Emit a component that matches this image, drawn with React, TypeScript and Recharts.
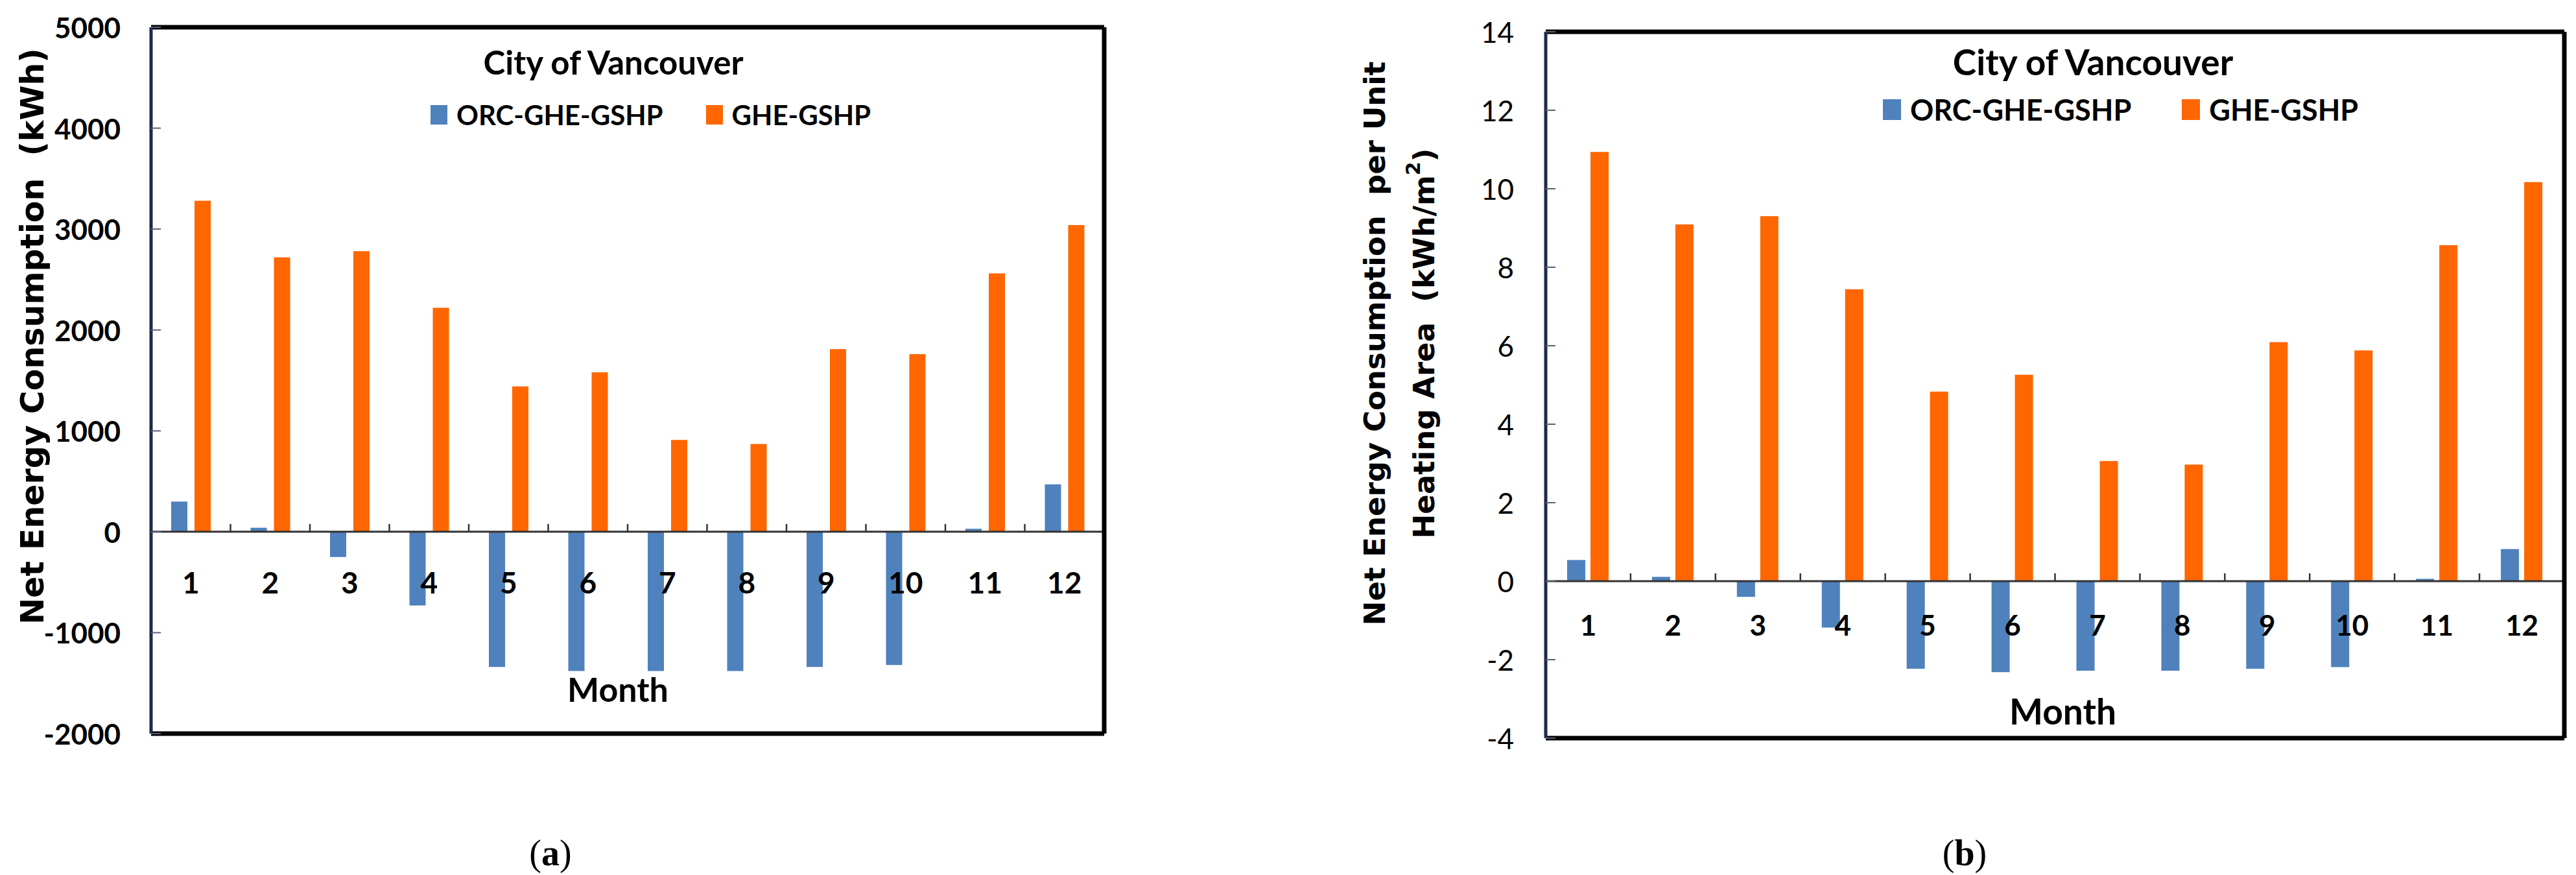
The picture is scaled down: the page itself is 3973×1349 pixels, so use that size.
import { Bar, BarChart, Label, Legend, ReferenceLine, XAxis, YAxis } from "recharts";

// values
const months = ["1", "2", "3", "4", "5", "6", "7", "8", "9", "10", "11", "12"];
const seriesNames = ["ORC-GHE-GSHP", "GHE-GSHP"];
const panelTitle = "City of Vancouver";

const orcKwh = [300, 40, -250, -730, -1340, -1380, -1380, -1380, -1340, -1320, 30, 470];
const gheKwh = [3280, 2720, 2780, 2220, 1440, 1580, 910, 870, 1810, 1760, 2560, 3040];
const kwhTicks = [-2000, -1000, 0, 1000, 2000, 3000, 4000, 5000];

const orcArea = [0.54, 0.11, -0.4, -1.18, -2.23, -2.32, -2.28, -2.28, -2.23, -2.19, 0.06, 0.82];
const gheArea = [10.94, 9.09, 9.3, 7.44, 4.83, 5.26, 3.06, 2.97, 6.09, 5.88, 8.56, 10.17];
const areaTicks = [-4, -2, 0, 2, 4, 6, 8, 10, 12, 14];

const BLUE = "#4F81BD";
const ORANGE = "#FF6600";
const NARROW = 'Lato, "Open Sans", sans-serif';
const WIDE = '"DejaVu Sans", Verdana, sans-serif';

type Panel = {
  left: number;
  width: number;
  height: number;
  margin: { top: number; right: number; bottom: number; left: number };
  yAxisW: number;
  barSize: number;
  barGap: number;
  yTickSize: number;
  yTickWeight: string;
  yTickGap: number;
  xTickSize: number;
  xLabelDy: number;
  monthSize: number;
  monthDx: number;
  monthDy: number;
  titleX: number;
  titleY: number;
  titleSize: number;
  legendX: number;
  legendY: number;
  legendSize: number;
  legendGap: number;
  swatch: number;
};

const X_AXIS_H = 30;
const RIGHT_AXIS_W = 10;

function makeRows(a: number[], b: number[]) {
  return months.map((m, i) => ({ month: m, orc: a[i], ghe: b[i] }));
}

function plotHeight(p: Panel) {
  return p.height - p.margin.top - p.margin.bottom - X_AXIS_H;
}

function plotWidth(p: Panel) {
  return p.width - p.margin.left - p.margin.right - p.yAxisW - RIGHT_AXIS_W;
}

function ChartPanel({
  p,
  rows,
  ticks,
  yTitle,
}: {
  p: Panel;
  rows: { month: string; orc: number; ghe: number }[];
  ticks: number[];
  yTitle: (vb: { x: number; y: number; width: number; height: number }) => React.ReactNode;
}) {
  const domain: [number, number] = [ticks[0], ticks[ticks.length - 1]];
  const plotH = plotHeight(p);
  const plotW = plotWidth(p);
  const zeroUp = (plotH * (0 - domain[0])) / (domain[1] - domain[0]);

  const xTick = (props: any) => {
    const { x, y, payload, index } = props;
    const zeroY = y - zeroUp;
    const half = plotW / months.length / 2;
    return (
      <g>
        {index < months.length - 1 && (
          <line x1={x + half} x2={x + half} y1={zeroY} y2={zeroY - 12} stroke="#333" strokeWidth={2.5} />
        )}
        <text
          x={x}
          y={zeroY + p.xLabelDy}
          textAnchor="middle"
          dominantBaseline="central"
          fontFamily={NARROW}
          fontWeight="bold"
          fontSize={p.xTickSize}
          fill="#000"
        >
          {payload.value}
        </text>
      </g>
    );
  };

  const yTick = (props: any) => {
    const { x, y, payload } = props;
    return (
      <g>
        <line x1={x} x2={x + 15} y1={y} y2={y} stroke="#56637c" strokeWidth={2} />
        <text
          x={x - p.yTickGap}
          y={y}
          textAnchor="end"
          dominantBaseline="central"
          fontFamily={NARROW}
          fontWeight={p.yTickWeight}
          fontSize={p.yTickSize}
          fill="#000"
        >
          {payload.value}
        </text>
      </g>
    );
  };

  const legend = () => (
    <div style={{ position: "relative", fontFamily: NARROW, fontWeight: "bold", color: "#000" }}>
      <div
        style={{
          position: "absolute",
          left: p.titleX - 400,
          width: 800,
          top: p.titleY - p.titleSize * 0.6,
          lineHeight: `${p.titleSize * 1.2}px`,
          fontSize: p.titleSize,
          textAlign: "center",
        }}
      >
        {panelTitle}
      </div>
      <div
        style={{
          position: "absolute",
          left: p.legendX,
          top: p.legendY - 30,
          height: 60,
          display: "flex",
          alignItems: "center",
          gap: p.legendGap,
          whiteSpace: "nowrap",
          fontSize: p.legendSize,
        }}
      >
        {seriesNames.map((name, i) => (
          <span key={name} style={{ display: "flex", alignItems: "center" }}>
            <span
              style={{
                display: "inline-block",
                width: p.swatch,
                height: p.swatch + 4,
                background: i === 0 ? BLUE : ORANGE,
                marginRight: 14,
              }}
            />
            <span>{name}</span>
          </span>
        ))}
      </div>
    </div>
  );

  return (
    <div style={{ position: "absolute", left: p.left, top: 0 }}>
      <BarChart
        width={p.width}
        height={p.height}
        data={rows}
        margin={p.margin}
        barGap={p.barGap}
      >
        <XAxis
          dataKey="month"
          height={X_AXIS_H}
          axisLine={false}
          tickLine={false}
          tickSize={0}
          tickMargin={0}
          interval={0}
          tick={xTick}
        >
          <Label
            content={(lp: any) => {
              const vb = lp.viewBox;
              return (
                <text
                  x={vb.x + vb.width / 2 + p.monthDx}
                  y={vb.y - p.monthDy}
                  textAnchor="middle"
                  dominantBaseline="central"
                  fontFamily={NARROW}
                  fontWeight="bold"
                  fontSize={p.monthSize}
                  fill="#000"
                >
                  Month
                </text>
              );
            }}
          />
        </XAxis>
        <YAxis
          yAxisId="left"
          type="number"
          domain={domain}
          ticks={ticks}
          width={p.yAxisW}
          axisLine={{ stroke: "#1d2b47", strokeWidth: 5 }}
          tickLine={false}
          tickSize={0}
          tickMargin={0}
          interval={0}
          tick={yTick}
        >
          <Label content={(lp: any) => yTitle(lp.viewBox)} />
        </YAxis>
        <YAxis
          yAxisId="right"
          orientation="right"
          type="number"
          domain={domain}
          width={RIGHT_AXIS_W}
          tick={false}
          tickLine={false}
          axisLine={{ stroke: "#000", strokeWidth: 7 }}
        />
        <Legend
          layout="horizontal"
          verticalAlign="middle"
          align="center"
          wrapperStyle={{ left: 0, top: 0, width: p.width, height: 0 }}
          content={legend}
        />
        <Bar
          yAxisId="left"
          dataKey="orc"
          name={seriesNames[0]}
          fill={BLUE}
          barSize={p.barSize}
          isAnimationActive={false}
        />
        <Bar
          yAxisId="left"
          dataKey="ghe"
          name={seriesNames[1]}
          fill={ORANGE}
          barSize={p.barSize}
          isAnimationActive={false}
        />
        <ReferenceLine yAxisId="left" y={0} stroke="#333" strokeWidth={3} ifOverflow="visible" />
        <ReferenceLine yAxisId="left" y={domain[1]} stroke="#000" strokeWidth={7} ifOverflow="visible" />
        <ReferenceLine yAxisId="left" y={domain[0]} stroke="#000" strokeWidth={7} ifOverflow="visible" />
      </BarChart>
    </div>
  );
}

const panelA: Panel = {
  left: 0,
  width: 1760,
  height: 1349,
  margin: { top: 42, right: 47, bottom: 188, left: 0 },
  yAxisW: 233,
  barSize: 25,
  barGap: 11,
  yTickSize: 44,
  yTickWeight: "bold",
  yTickGap: 47,
  xTickSize: 46,
  xLabelDy: 78,
  monthSize: 52,
  monthDx: -15,
  monthDy: 69,
  titleX: 946,
  titleY: 96,
  titleSize: 51,
  legendX: 664,
  legendY: 177,
  legendSize: 42,
  legendGap: 66,
  swatch: 26,
};

const panelB: Panel = {
  left: 1960,
  width: 2013,
  height: 1349,
  margin: { top: 49, right: 8, bottom: 181, left: 0 },
  yAxisW: 424,
  barSize: 28,
  barGap: 8,
  yTickSize: 44,
  yTickWeight: "normal",
  yTickGap: 49,
  xTickSize: 44,
  xLabelDy: 67,
  monthSize: 55,
  monthDx: 12,
  monthDy: 42,
  titleX: 1268,
  titleY: 95,
  titleSize: 55,
  legendX: 944,
  legendY: 169,
  legendSize: 45,
  legendGap: 78,
  swatch: 28,
};

const kwhTitle = (vb: { x: number; y: number; width: number; height: number }) => {
  const cx = vb.x + 50;
  const cy = vb.y + vb.height / 2 - 68;
  return (
    <text
      x={cx}
      y={cy}
      transform={`rotate(-90 ${cx} ${cy})`}
      textAnchor="middle"
      dominantBaseline="central"
      fontFamily={WIDE}
      fontWeight="bold"
      fontSize={49}
      fill="#000"
      style={{ whiteSpace: "pre" }}
    >
      {"Net Energy Consumption  (kWh)"}
    </text>
  );
};

const areaTitle = (vb: { x: number; y: number; width: number; height: number }) => {
  const cy = vb.y + vb.height / 2 - 64;
  const c1 = vb.x + 160;
  const c2 = vb.x + 236;
  return (
    <g fontFamily={WIDE} fontWeight="bold" fontSize={45} fill="#000">
      <text
        x={c1}
        y={cy}
        transform={`rotate(-90 ${c1} ${cy})`}
        textAnchor="middle"
        dominantBaseline="central"
        style={{ whiteSpace: "pre" }}
      >
        {"Net Energy Consumption  per Unit"}
      </text>
      <text
        x={c2}
        y={cy}
        transform={`rotate(-90 ${c2} ${cy})`}
        textAnchor="middle"
        dominantBaseline="central"
        style={{ whiteSpace: "pre" }}
      >
        {"Heating Area  (kWh/m"}
        <tspan dy={-17} fontSize={30}>
          2
        </tspan>
        <tspan dy={17}>)</tspan>
      </text>
    </g>
  );
};

function Caption({ x, letter }: { x: number; letter: string }) {
  return (
    <div
      style={{
        position: "absolute",
        left: x - 100,
        width: 200,
        top: 1280,
        lineHeight: "70px",
        fontSize: 56,
        fontFamily: '"Liberation Serif", "DejaVu Serif", serif',
        textAlign: "center",
        color: "#000",
      }}
    >
      (<b>{letter}</b>)
    </div>
  );
}

export default function App() {
  return (
    <div
      style={{
        position: "absolute",
        left: 0,
        top: 0,
        width: 3973,
        height: 1349,
        background: "#fff",
        overflow: "hidden",
      }}
    >
      <ChartPanel p={panelA} rows={makeRows(orcKwh, gheKwh)} ticks={kwhTicks} yTitle={kwhTitle} />
      <ChartPanel p={panelB} rows={makeRows(orcArea, gheArea)} ticks={areaTicks} yTitle={areaTitle} />
      <Caption x={849} letter="a" />
      <Caption x={3030} letter="b" />
    </div>
  );
}
